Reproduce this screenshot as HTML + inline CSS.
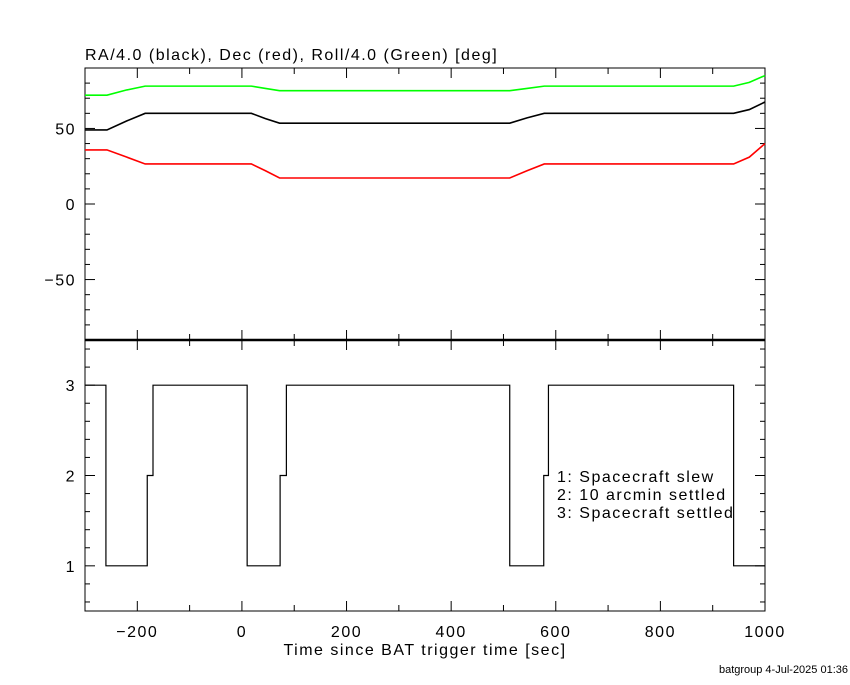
<!DOCTYPE html>
<html><head><meta charset="utf-8"><style>
body{margin:0;background:#fff}
svg text{font-family:"Liberation Sans",sans-serif;font-size:16px;letter-spacing:1.5px;fill:#000}
</style></head><body>
<svg id="c" width="850" height="680"></svg>
<script>
const raT=[-300,-258,-220,-185,18,45,72,512,545,578,940,970,1000];
const raV=[49,49,55,60,60,56.5,53.5,53.5,57,60,60,62.5,67.5];
const decT=[-300,-258,-220,-185,18,45,72,512,545,578,940,970,1000];
const decV=[35.8,35.8,31,26.5,26.5,22,17.2,17.2,22,26.5,26.5,31,40];
const rollT=[-300,-258,-220,-185,18,45,72,512,545,578,940,970,1000];
const rollV=[72,72,75.5,78,78,76.5,75,75,76.5,78,78,80.5,85];
const stT=[-300,-260,-181,-170,10,73,85,512,577,586,940,1000];
const stV=[3,1,2,3,1,2,3,1,2,3,1,1];
const xTicks=[-200,0,200,400,600,800,1000];
const yTopTicks=[-50,0,50];
const yBotTicks=[1,2,3];
const legendLines=["1: Spacecraft slew","2: 10 arcmin settled","3: Spacecraft settled"];

const NS="http://www.w3.org/2000/svg",svg=document.getElementById('c');
const X0=85,X1=765,T0=68,T1=340,B1=611;
const xs=v=>X0+(v+300)/1300*(X1-X0);
const yt=v=>T0+(90-v)/180*(T1-T0);
const yb=v=>T1+(3.5-v)/3*(B1-T1);
function el(t,a,name){const e=document.createElementNS(NS,t);for(const k in a)e.setAttribute(k,a[k]);svg.appendChild(e);return e;}
function txt(x,y,s,anchor,name){const e=el('text',{x:x,y:y,'text-anchor':anchor||'start'},name);e.textContent=s;return e;}
el('rect',{x:X0,y:T0,width:X1-X0,height:T1-T0,fill:'none',stroke:'#000','stroke-width':1},'top-panel-frame');
el('rect',{x:X0,y:T1,width:X1-X0,height:B1-T1,fill:'none',stroke:'#000','stroke-width':1},'bottom-panel-frame');
el('line',{x1:X0,x2:X1,y1:T1,y2:T1,stroke:'#000','stroke-width':2.5},'panel-divider');
for(let v=-300;v<=1000;v+=100){const x=xs(v),L=(v%200==0)?10:6;
 for(const [a,b] of [[T0,T1],[T1,B1]]){
  el('line',{x1:x,x2:x,y1:a,y2:a+L,stroke:'#000'},'x-tick');
  el('line',{x1:x,x2:x,y1:b,y2:b-L,stroke:'#000'},'x-tick');}}
xTicks.forEach(v=>txt(xs(v),637,v<0?'\u2212'+(-v):String(v),'middle','x-tick-label'));
for(let v=-90;v<=90;v+=10){const y=yt(v),L=(v%50==0)?10:5;
 el('line',{x1:X0,x2:X0+L,y1:y,y2:y,stroke:'#000'},'y-tick');
 el('line',{x1:X1,x2:X1-L,y1:y,y2:y,stroke:'#000'},'y-tick');}
yTopTicks.forEach(v=>txt(76,yt(v)+6,v<0?'\u2212'+(-v):String(v),'end','y-tick-label'));
for(let i=3;i<=17;i++){const v=i/5,y=yb(v),L=(i%5==0)?10:5;
 el('line',{x1:X0,x2:X0+L,y1:y,y2:y,stroke:'#000'},'y-tick');
 el('line',{x1:X1,x2:X1-L,y1:y,y2:y,stroke:'#000'},'y-tick');}
yBotTicks.forEach(v=>txt(76,yb(v)+6,String(v),'end','y-tick-label'));
function line(T,V,col,name){el('polyline',{points:T.map((t,i)=>xs(t)+','+yt(V[i])).join(' '),fill:'none',stroke:col,'stroke-width':1.6},name);}
line(rollT,rollV,'#00ff00','roll-line');
line(raT,raV,'#000','ra-line');
line(decT,decV,'#ff0000','dec-line');
let pts=[];for(let i=0;i<stT.length;i++){const x=xs(stT[i]);if(i>0)pts.push(x+','+yb(stV[i-1]));pts.push(x+','+yb(stV[i]));}
el('polyline',{points:pts.join(' '),fill:'none',stroke:'#000','stroke-width':1.2},'status-step-line');
txt(85,60,'RA/4.0 (black), Dec (red), Roll/4.0 (Green) [deg]','start','top-panel-title');
txt(425,655,'Time since BAT trigger time [sec]','middle','x-axis-title');
legendLines.forEach((s,i)=>txt(557,482+i*18,s,'start','legend-entry'));
const f=txt(848,673,'batgroup  4\u2011Jul\u20112025 01:36','end','footer-stamp');f.setAttribute('style','font-size:11px;letter-spacing:0');
</script>
</body></html>
